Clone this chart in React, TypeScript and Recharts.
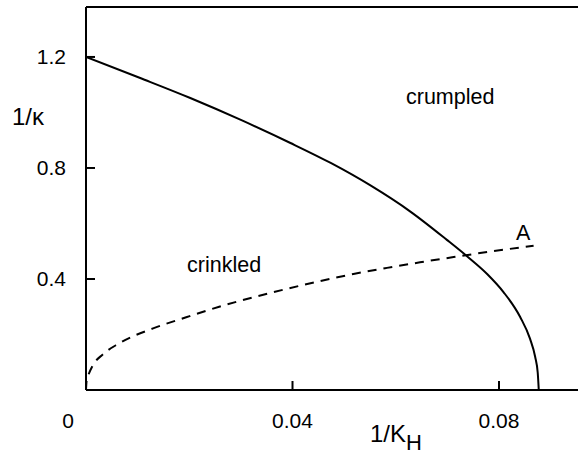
import React from "react";
import { LineChart, Line, XAxis, YAxis, ReferenceLine } from "recharts";

// Solid boundary (crumpled / crinkled transition)
const solidX = [0, 0.0105, 0.0202, 0.03, 0.0396, 0.0474, 0.0551, 0.0629, 0.0699, 0.0738, 0.0777, 0.0809, 0.0841, 0.086, 0.087, 0.0875, 0.0877];
const solidY = [1.2, 1.124, 1.052, 0.973, 0.89, 0.818, 0.737, 0.642, 0.541, 0.482, 0.418, 0.352, 0.263, 0.185, 0.12, 0.062, 0];

// Dashed line ending at point A
const dashX = [0, 0.0001, 0.0004, 0.0013, 0.00324, 0.0064, 0.013, 0.0194, 0.0258, 0.0324, 0.0388, 0.0452, 0.0518, 0.0583, 0.0647, 0.0712, 0.0777, 0.0867];
const dashY = [0, 0.03, 0.05, 0.088, 0.128, 0.168, 0.222, 0.262, 0.3, 0.334, 0.364, 0.392, 0.418, 0.44, 0.46, 0.479, 0.497, 0.52];

const xTicks = [0, 0.04, 0.08];
const xTickLabels = ["0", "0.04", "0.08"];
const yTicks = [0.4, 0.8, 1.2];
const yTickLabels = ["0.4", "0.8", "1.2"];

const solidData = solidX.map((x, i) => ({ x, y: solidY[i] }));
const dashData = dashX.map((x, i) => ({ x, y: dashY[i] }));

const FONT = "'Liberation Sans', Arial, sans-serif";

const XTick = (props: any) => {
  const { x, y, payload } = props;
  const idx = xTicks.indexOf(payload.value);
  const label = idx >= 0 ? xTickLabels[idx] : String(payload.value);
  if (payload.value === 0) {
    return (
      <text x={x - 18} y={y + 30} textAnchor="middle" dominantBaseline="central" fontFamily={FONT} fontSize={21} fill="#000">
        {label}
      </text>
    );
  }
  return (
    <g>
      <line x1={x} y1={y} x2={x} y2={y - 9} stroke="#000" strokeWidth={2} />
      <text x={x} y={y + 30} textAnchor="middle" dominantBaseline="central" fontFamily={FONT} fontSize={21} fill="#000">
        {label}
      </text>
    </g>
  );
};

const YTick = (props: any) => {
  const { x, y, payload } = props;
  const idx = yTicks.indexOf(payload.value);
  const label = idx >= 0 ? yTickLabels[idx] : String(payload.value);
  return (
    <g>
      <line x1={x} y1={y} x2={x + 9} y2={y} stroke="#000" strokeWidth={2} />
      <text x={x - 20} y={y} textAnchor="end" dominantBaseline="central" fontFamily={FONT} fontSize={21} fill="#000">
        {label}
      </text>
    </g>
  );
};

export default function App() {
  return (
    <div style={{ position: "absolute", left: 0, top: 0, width: 578, height: 454, background: "#fff" }}>
      <LineChart width={578} height={454} margin={{ top: 7, right: 0, bottom: 0, left: 0 }}>
        <XAxis
          type="number"
          dataKey="x"
          domain={[0, 0.0953]}
          ticks={xTicks}
          allowDataOverflow
          tickLine={false}
          tickSize={0}
          tickMargin={0}
          tick={<XTick />}
          axisLine={{ stroke: "#000", strokeWidth: 2 }}
          height={64}
        />
        <YAxis
          type="number"
          dataKey="y"
          domain={[0, 1.38]}
          ticks={yTicks}
          allowDataOverflow
          tickLine={false}
          tickSize={0}
          tickMargin={0}
          tick={<YTick />}
          axisLine={{ stroke: "#000", strokeWidth: 2 }}
          width={86}
        />
        <ReferenceLine y={1.38} stroke="#000" strokeWidth={2} ifOverflow="visible" />
        <Line data={solidData} dataKey="y" type="monotone" stroke="#000" strokeWidth={2} dot={false} isAnimationActive={false} />
        <Line data={dashData} dataKey="y" type="monotone" stroke="#000" strokeWidth={2} strokeDasharray="9 7" dot={false} isAnimationActive={false} />
      </LineChart>
      <svg width={578} height={454} style={{ position: "absolute", left: 0, top: 0, pointerEvents: "none" }}>
        <text x={12} y={125} fontFamily={FONT} fontSize={24} fill="#000">1/κ</text>
        <text x={370} y={442} fontFamily={FONT} fontSize={24} fill="#000">
          1/K<tspan dy={8} fontSize={22}>H</tspan>
        </text>
        <text x={406} y={104} fontFamily={FONT} fontSize={21.5} fill="#000">crumpled</text>
        <text x={187} y={272} fontFamily={FONT} fontSize={21.5} fill="#000">crinkled</text>
        <text x={516} y={240} fontFamily={FONT} fontSize={21.5} fill="#000">A</text>
      </svg>
    </div>
  );
}
